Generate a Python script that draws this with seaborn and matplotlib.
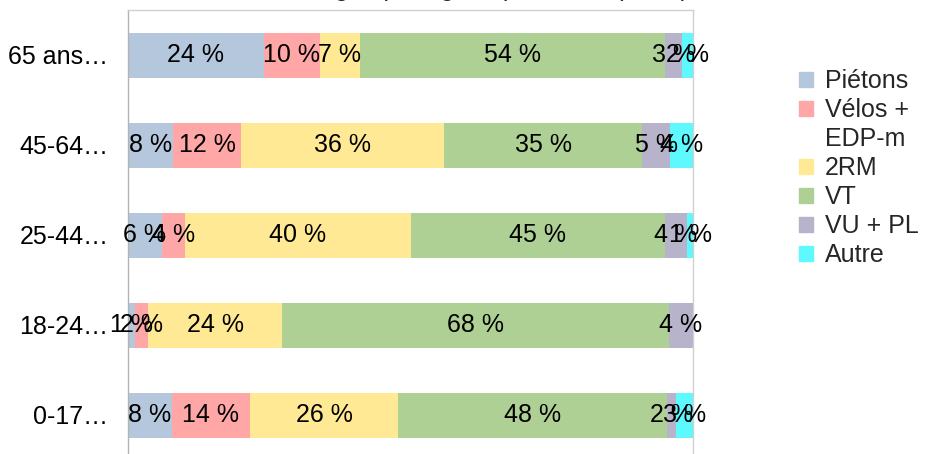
import matplotlib
matplotlib.use("Agg")
import matplotlib.pyplot as plt
import matplotlib.patches as mpatches
import seaborn as sns
import pandas as pd
import numpy as np

sns.set_theme(style="white")
plt.rcParams['font.family'] = ['Liberation Sans', 'DejaVu Sans']

# ---- data ----
title = "Victimes en montagne par âge et par mode (en %)"
categories = ["65 ans…", "45-64…", "25-44…", "18-24…", "0-17…"]
series = ["Piétons", "Vélos +\nEDP-m", "2RM", "VT", "VU + PL", "Autre"]
pietons = [24, 8, 6, 1.2, 7.7]
velos = [10, 12, 4, 2.4, 13.9]
deux_rm = [7, 36, 40, 23.7, 26.2]
vt = [54, 35, 45, 68.4, 47.6]
vu_pl = [3, 5, 4, 4.3, 1.6]
autre = [2, 4, 1, 0, 3.0]
colors = ["#b4c7dc", "#ffa6a6", "#ffe994", "#afd095", "#b7b3ca", "#5ef8ff"]

values = [pietons, velos, deux_rm, vt, vu_pl, autre]
df = pd.DataFrame({s: v for s, v in zip(series, values)}, index=categories)
cum = df.cumsum(axis=1)

W, H = 925, 454
fig = plt.figure(figsize=(W / 100, H / 100), dpi=100)
ax = fig.add_axes([128 / W, (H - 460) / H, 565 / W, 450 / H])

# draw stacked bars by overlaying cumulative totals (largest first)
for s, c in reversed(list(zip(series, colors))):
    d = pd.DataFrame({"cat": categories, "val": cum[s].values})
    sns.barplot(data=d, x="val", y="cat", order=categories, color=c,
                width=0.5, orient="h", ax=ax, saturation=1, linewidth=0)

FS = 18
# labels in segments
for i, cat in enumerate(categories):
    for s in series:
        v = df.loc[cat, s]
        if v <= 0:
            continue
        xc = cum.loc[cat, s] - v / 2
        ax.text(xc, i, f"{v:.0f} %", ha="center", va="center",
                fontsize=FS, color="black")

ax.set_xlim(0, 100)
ax.set_ylim(len(categories) - 0.5, -0.5)
ax.set_xlabel("")
ax.set_ylabel("")
ax.set_xticks([])
ax.tick_params(axis="y", which="major", length=0, pad=14, labelsize=FS,
               labelcolor="black")
ax.set_yticks(np.arange(-0.5, len(categories), 1.0), minor=True)
ax.tick_params(axis="y", which="minor", length=8, width=1, color="#b3b3b3",
               direction="out")

ax.spines["left"].set_color("#b3b3b3")
for side in ["top", "right"]:
    ax.spines[side].set_color("#d0d0d0")
ax.spines["bottom"].set_visible(False)
for sp in ax.spines.values():
    sp.set_linewidth(1)

# title (mostly outside the canvas as in the reference)
fig.text(689 / W, 1 + 4 / H, title, ha="right", va="baseline", fontsize=FS)

# legend: multi-line labels keep the swatch on their first line
handles, labels = [], []
for s, c in zip(series, colors):
    lines = s.split("\n")
    handles.append(mpatches.Patch(color=c))
    labels.append(lines[0])
    for extra in lines[1:]:
        handles.append(mpatches.Patch(color="none"))
        labels.append(extra)
leg = fig.legend(handles=handles, labels=labels, loc="upper left",
                 bbox_to_anchor=(799 / W, 1 - 69 / H), frameon=False,
                 fontsize=FS, handlelength=0.55, handleheight=0.55,
                 handletextpad=0.5, labelspacing=0.2, borderaxespad=0,
                 borderpad=0)

fig.savefig("out.png", dpi=100)
